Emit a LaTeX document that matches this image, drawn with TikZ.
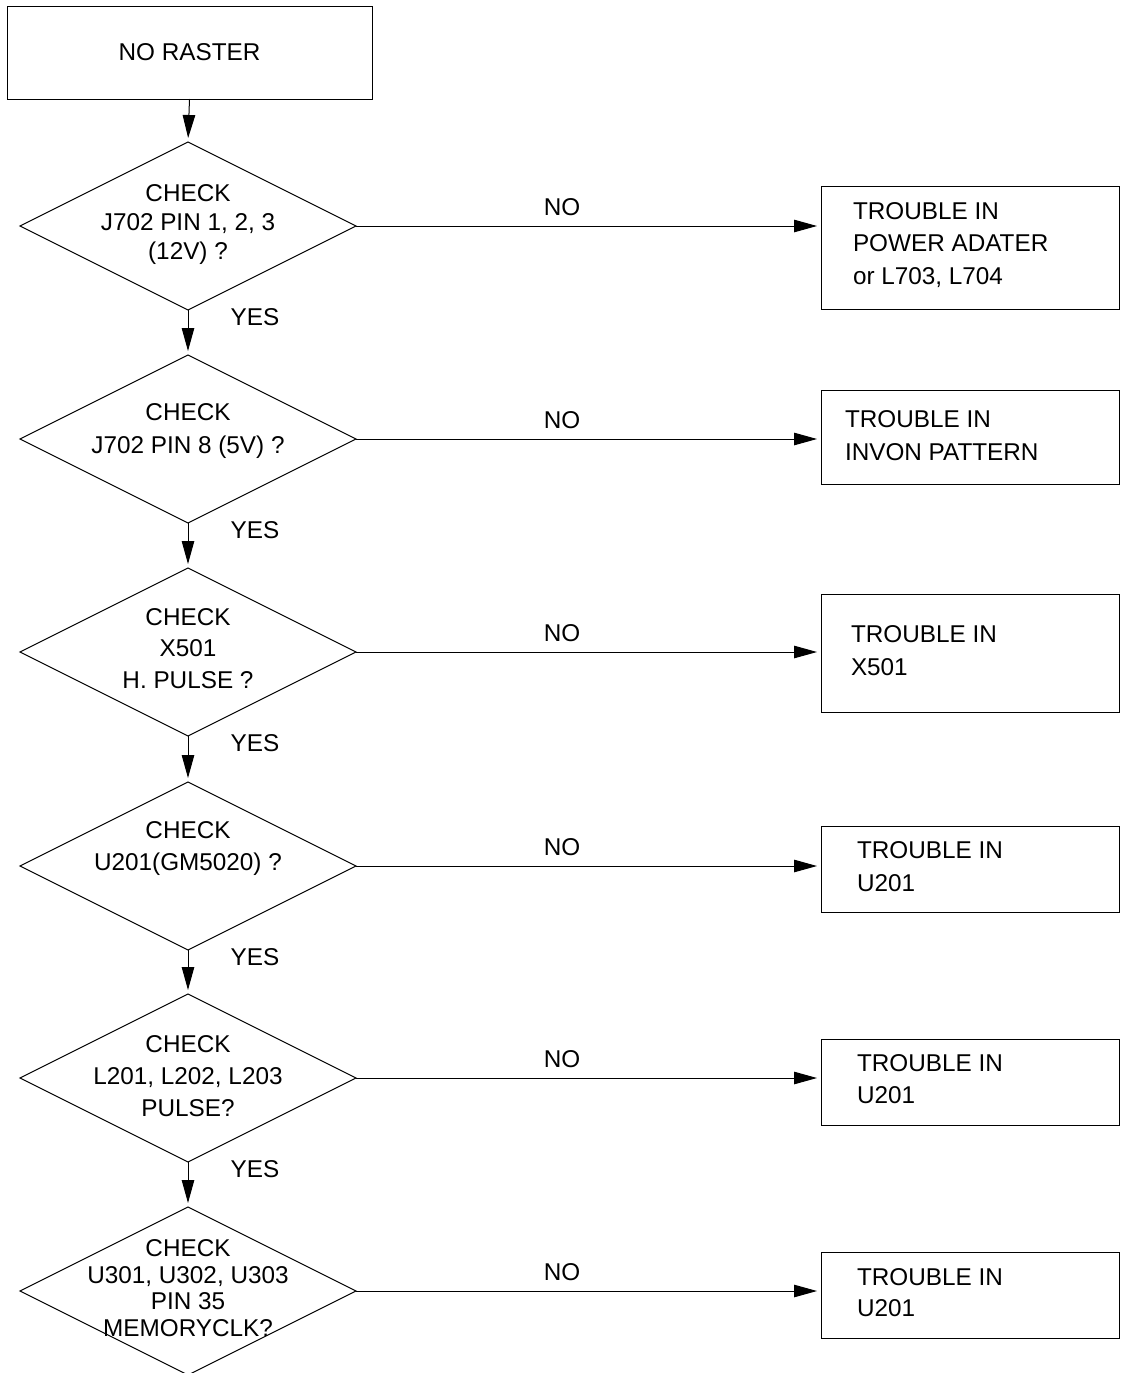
\documentclass[tikz,border=0pt]{standalone}
\usepackage{fontspec}
\setmainfont{Liberation Sans}
\usetikzlibrary{arrows.meta,shapes.geometric}
\begin{document}
\begin{tikzpicture}[x=1pt,y=-1pt,
  every node/.style={font=\fontsize{24.3}{29}\selectfont, inner sep=0pt, outer sep=0pt},
  startbox/.style={draw, line width=1pt, minimum width=365pt, minimum height=93pt},
  decision/.style={draw, shape=diamond, line width=1pt, minimum width=336pt, minimum height=168pt},
  resultbox/.style={draw, line width=1pt, minimum width=298pt},
  dtext/.style={align=center},
  rtext/.style={align=left, anchor=west},
  flow/.style={line width=1pt, -{Triangle[length=23pt,width=12.5pt]}, shorten >=4pt},
  lsp/.style={font=\fontsize{24.3}{#1}\selectfont},
]
\useasboundingbox (0,0) rectangle (1121,1373);

% start
\node[startbox] (start) at (189.5,52.5) {NO RASTER};

% decisions
\node[decision] (d1) at (188,226) {};
\node[decision] (d2) at (188,439) {};
\node[decision] (d3) at (188,652) {};
\node[decision] (d4) at (188,866) {};
\node[decision] (d5) at (188,1078) {};
\node[decision] (d6) at (188,1291) {};

\node[dtext, lsp=29] (d1t) at (188,225) {CHECK\\J702 PIN 1, 2, 3\\(12V) ?};
\node[dtext, lsp=33] (d2t) at (188,431) {CHECK\\J702 PIN 8 (5V) ?};
\node[dtext, lsp=31.5] (d3t) at (188,648.5) {CHECK\\X501\\H. PULSE ?};
\node[dtext, lsp=32] (d4t) at (188,849) {CHECK\\U201(GM5020) ?};
\node[dtext, lsp=32] (d5t) at (188,1076) {CHECK\\L201, L202, L203\\PULSE?};
\node[dtext, lsp=26.7] (d6t) at (188,1288) {CHECK\\U301, U302, U303\\PIN 35\\MEMORYCLK?};

% results
\node[resultbox, minimum height=123pt] (r1) at (970,247.5) {};
\node[resultbox, minimum height=94pt] (r2) at (970,437) {};
\node[resultbox, minimum height=118pt] (r3) at (970,653) {};
\node[resultbox, minimum height=86pt] (r4) at (970,869) {};
\node[resultbox, minimum height=86pt] (r5) at (970,1082) {};
\node[resultbox, minimum height=86pt] (r6) at (970,1295) {};

\node[rtext, lsp=32.5] (r1t) at (853,245) {TROUBLE IN\\POWER ADATER\\or L703, L704};
\node[rtext, lsp=33] (r2t) at (845,435.5) {TROUBLE IN\\INVON PATTERN};
\node[rtext, lsp=33] (r3t) at (851,650.5) {TROUBLE IN\\X501};
\node[rtext, lsp=33] (r4t) at (857,866.5) {TROUBLE IN\\U201};
\node[rtext, lsp=32] (r5t) at (857,1079) {TROUBLE IN\\U201};
\node[rtext, lsp=31] (r6t) at (857,1292.5) {TROUBLE IN\\U201};

% vertical flow
\draw[flow] (start.south) -- (d1.north);
\draw[flow] (d1.south) -- (d2.north);
\draw[flow] (d2.south) -- (d3.north);
\draw[flow] (d3.south) -- (d4.north);
\draw[flow] (d4.south) -- (d5.north);
\draw[flow] (d5.south) -- (d6.north);

% NO branches
\draw[flow] (d1.east) -- (d1.east -| r1.west);
\draw[flow] (d2.east) -- (d2.east -| r2.west);
\draw[flow] (d3.east) -- (d3.east -| r3.west);
\draw[flow] (d4.east) -- (d4.east -| r4.west);
\draw[flow] (d5.east) -- (d5.east -| r5.west);
\draw[flow] (d6.east) -- (d6.east -| r6.west);

% labels
\node (no1) at (562,207) {NO};
\node (no2) at (562,420) {NO};
\node (no3) at (562,633) {NO};
\node (no4) at (562,847) {NO};
\node (no5) at (562,1059) {NO};
\node (no6) at (562,1272) {NO};

\node (yes1) at (255,317) {YES};
\node (yes2) at (255,530) {YES};
\node (yes3) at (255,743) {YES};
\node (yes4) at (255,957) {YES};
\node (yes5) at (255,1169) {YES};
\end{tikzpicture}
\end{document}
